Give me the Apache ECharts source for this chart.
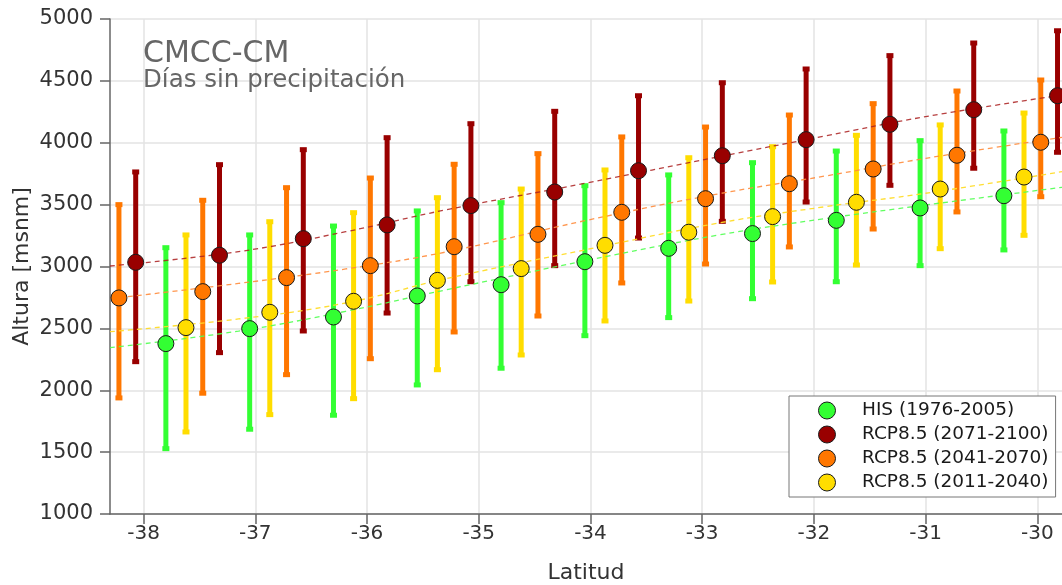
<!DOCTYPE html>
<html>
<head>
<meta charset="utf-8">
<script src="https://cdn.jsdelivr.net/npm/echarts@6/dist/echarts.min.js"></script>
<style>html,body{margin:0;padding:0;background:#fff}#c{width:1062px;height:585px}</style>
</head>
<body>
<div id="c"></div>
<script>
// ---- data ----
const xTicks = [-38, -37, -36, -35, -34, -33, -32, -31, -30];
const yTicks = [1000, 1500, 2000, 2500, 3000, 3500, 4000, 4500, 5000];

const latHIS  = [-37.80, -37.05, -36.30, -35.55, -34.80, -34.05, -33.30, -32.55, -31.80, -31.05, -30.30];
const meanHIS = [2377, 2498, 2592, 2762, 2853, 3039, 3147, 3266, 3373, 3473, 3572];
const lowHIS  = [1528, 1685, 1798, 2043, 2178, 2441, 2587, 2740, 2877, 3007, 3134];
const highHIS = [3152, 3255, 3327, 3449, 3516, 3653, 3740, 3839, 3933, 4017, 4095];

const lat2011  = [-37.62, -36.87, -36.12, -35.37, -34.62, -33.87, -33.12, -32.37, -31.62, -30.87, -30.12];
const mean2011 = [2506, 2630, 2719, 2888, 2983, 3171, 3277, 3403, 3519, 3626, 3723];
const low2011  = [1663, 1803, 1932, 2166, 2285, 2560, 2721, 2875, 3012, 3144, 3252];
const high2011 = [3255, 3362, 3435, 3556, 3626, 3780, 3879, 3968, 4060, 4144, 4240];

const lat2041  = [-38.22, -37.47, -36.72, -35.97, -35.22, -34.47, -33.72, -32.97, -32.22, -31.47, -30.72, -29.97];
const mean2041 = [2746, 2797, 2910, 3007, 3160, 3260, 3438, 3548, 3669, 3788, 3899, 4004];
const low2041  = [1938, 1976, 2126, 2255, 2471, 2600, 2867, 3020, 3158, 3303, 3441, 3564];
const high2041 = [3500, 3535, 3637, 3715, 3826, 3912, 4047, 4127, 4224, 4316, 4418, 4507];

const lat2071  = [-38.07, -37.32, -36.57, -35.82, -35.07, -34.32, -33.57, -32.82, -32.07, -31.32, -30.57, -29.82];
const mean2071 = [3034, 3091, 3225, 3336, 3492, 3602, 3774, 3895, 4025, 4149, 4267, 4380];
const low2071  = [2231, 2304, 2479, 2624, 2877, 3007, 3230, 3365, 3521, 3656, 3794, 3923];
const high2071 = [3764, 3823, 3944, 4041, 4154, 4254, 4380, 4485, 4596, 4704, 4806, 4905];

// trend (dashed) lines
const trendLat  = [-38.30, -37.15, -36.19, -35.30, -34.05, -32.85, -31.90, -31.00, -29.78];
const trendHIS  = [2344, 2478, 2638, 2810, 3046, 3255, 3387, 3497, 3640];
const trend2011 = [2473, 2576, 2705, 2900, 3134, 3352, 3483, 3592, 3766];
const trend2041 = [2740, 2863, 2980, 3116, 3370, 3588, 3731, 3874, 4044];
const trend2071 = [3004, 3120, 3281, 3457, 3672, 3887, 4055, 4211, 4386];

const names = ['HIS (1976-2005)', 'RCP8.5 (2071-2100)', 'RCP8.5 (2041-2070)', 'RCP8.5 (2011-2040)'];
const colors = {his: '#33ff33', r71: '#990000', r41: '#ff7700', r11: '#ffdd00'};
const trendColors = {his: 'rgba(80,255,80,0.9)', r71: 'rgba(170,30,30,0.85)', r41: 'rgba(255,140,60,0.9)', r11: 'rgba(255,220,40,0.95)'};

const FONT = 'DejaVu Sans';

function zip(a, b) { return a.map((v, i) => [v, b[i]]); }
function zip3(a, b, c) { return a.map((v, i) => [v, b[i], c[i]]); }

function errSeries(lat, low, high, color) {
  return {
    type: 'custom',
    z: 2,
    silent: true,
    data: zip3(lat, low, high),
    renderItem: function (params, api) {
      const x = api.value(0), lo = api.value(1), hi = api.value(2);
      const p1 = api.coord([x, hi]);
      const p2 = api.coord([x, lo]);
      const w = 5, cw = 7, ch = 5;
      return {
        type: 'group',
        children: [
          {type: 'rect', shape: {x: p1[0] - w / 2, y: p1[1], width: w, height: p2[1] - p1[1]}, style: {fill: color}},
          {type: 'rect', shape: {x: p1[0] - cw / 2, y: p1[1] - ch / 2, width: cw, height: ch}, style: {fill: color}},
          {type: 'rect', shape: {x: p2[0] - cw / 2, y: p2[1] - ch / 2, width: cw, height: ch}, style: {fill: color}}
        ]
      };
    }
  };
}
function trendSeries(vals, color) {
  return {
    type: 'line', z: 3, silent: true, smooth: 0.4, showSymbol: false, symbol: 'none',
    data: zip(trendLat, vals),
    lineStyle: {color: color, width: 1.3, type: [5, 4]}
  };
}
function ptSeries(name, lat, mean, color) {
  return {
    name: name, type: 'scatter', z: 4, symbol: 'circle', symbolSize: 16,
    data: zip(lat, mean),
    itemStyle: {color: color, borderColor: '#1a1a1a', borderWidth: 1, opacity: 1}
  };
}

const chart = echarts.init(document.getElementById('c'), null, {renderer: 'canvas'});
chart.setOption({
  animation: false,
  backgroundColor: '#fff',
  textStyle: {fontFamily: FONT},
  grid: {left: 110, right: 0, top: 19, bottom: 71, containLabel: false, outerBoundsMode: 'none'},
  graphic: [
    {type: 'text', left: 143, top: 39, z: 10, style: {text: 'CMCC-CM', font: '30px "DejaVu Sans"', fill: '#666666'}},
    {type: 'text', left: 143, top: 68, z: 10, style: {text: 'Días sin precipitación', font: '24.5px "DejaVu Sans"', fill: '#666666'}}
  ],
  legend: {
    orient: 'vertical', left: 789, top: 396,
    data: names.map(n => ({name: n, icon: 'circle'})),
    itemWidth: 60, itemHeight: 17, itemGap: 5,
    padding: [5, 7, 5, 29],
    backgroundColor: '#fff', borderColor: '#777', borderWidth: 1, borderRadius: 0,
    selectedMode: false,
    itemStyle: {borderColor: '#1a1a1a', borderWidth: 1},
    textStyle: {fontFamily: FONT, fontSize: 18.5, color: '#1a1a1a', padding: [0, 0, 0, 0]}
  },
  xAxis: {
    type: 'value', min: -38.3, max: -29.78,
    name: 'Latitud', nameLocation: 'middle', nameGap: 48, nameMoveOverlap: false,
    nameTextStyle: {fontFamily: FONT, fontSize: 22, color: '#333'},
    axisLine: {show: true, lineStyle: {color: '#666', width: 1.5}},
    axisTick: {show: true, inside: false, length: 10, customValues: xTicks, lineStyle: {color: '#666', width: 1.5}},
    axisLabel: {customValues: xTicks, margin: 10, fontFamily: FONT, fontSize: 20, color: '#333', formatter: v => String(v)},
    splitLine: {show: true, lineStyle: {color: '#e3e3e3', width: 1.5}}
  },
  yAxis: {
    type: 'value', min: yTicks[0], max: yTicks[yTicks.length - 1], interval: 500,
    name: 'Altura [msnm]', nameLocation: 'middle', nameGap: 77, nameRotate: 90, nameMoveOverlap: false,
    nameTextStyle: {fontFamily: FONT, fontSize: 22, color: '#333'},
    axisLine: {show: true, lineStyle: {color: '#666', width: 1.5}},
    axisTick: {show: true, inside: false, length: 10, lineStyle: {color: '#666', width: 1.5}},
    axisLabel: {margin: 17, fontFamily: FONT, fontSize: 21, color: '#333', formatter: v => String(v)},
    splitLine: {show: true, lineStyle: {color: '#e3e3e3', width: 1.5}}
  },
  series: [
    errSeries(latHIS, lowHIS, highHIS, colors.his),
    errSeries(lat2011, low2011, high2011, colors.r11),
    errSeries(lat2041, low2041, high2041, colors.r41),
    errSeries(lat2071, low2071, high2071, colors.r71),
    trendSeries(trendHIS, trendColors.his),
    trendSeries(trend2011, trendColors.r11),
    trendSeries(trend2041, trendColors.r41),
    trendSeries(trend2071, trendColors.r71),
    ptSeries(names[0], latHIS, meanHIS, colors.his),
    ptSeries(names[3], lat2011, mean2011, colors.r11),
    ptSeries(names[2], lat2041, mean2041, colors.r41),
    ptSeries(names[1], lat2071, mean2071, colors.r71)
  ]
});
</script>
</body>
</html>
